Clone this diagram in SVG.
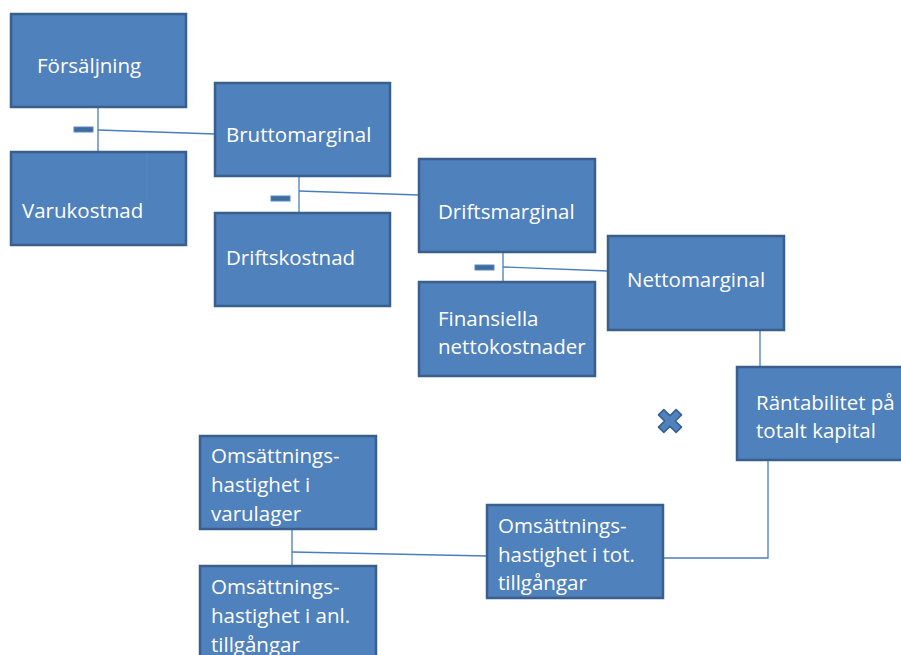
<svg xmlns="http://www.w3.org/2000/svg" width="901" height="655" viewBox="0 0 901 655">
  <style>
    .box { fill: #4F81BD; stroke: #3A5F8C; stroke-width: 2.5; }
    .lbl { font-family: "Open Sans", "Liberation Sans", sans-serif; font-size: 20.5px; fill: #FFFFFF; }
    .link { stroke: #4A7EBB; stroke-width: 1.3; fill: none; }
    .minus { fill: #3F6B9F; stroke: #5A88C0; stroke-width: 1; }
    .op { fill: #4F81BD; stroke: #385D8A; stroke-width: 1.5; stroke-linejoin: round; }
  </style>
  <rect width="901" height="655" fill="#FFFFFF"/>

  <!-- connectors -->
  <g id="connectors">
    <line class="link" x1="98" y1="107" x2="98" y2="152"/>
    <line class="link" x1="98" y1="130" x2="215" y2="134"/>
    <line class="link" x1="299" y1="176" x2="299" y2="215"/>
    <line class="link" x1="299" y1="191" x2="419" y2="195"/>
    <line class="link" x1="503" y1="252" x2="503" y2="284"/>
    <line class="link" x1="503" y1="267" x2="608" y2="271"/>
    <line class="link" x1="760" y1="330" x2="760" y2="367"/>
    <line class="link" x1="292" y1="529" x2="292" y2="568"/>
    <line class="link" x1="292" y1="552" x2="487" y2="556"/>
    <polyline class="link" points="663,558 768,558 768,460"/>
  </g>

  <!-- operators: minus signs and the multiply sign -->
  <g id="operators">
    <rect class="minus" x="74" y="127" width="19" height="5"/>
    <rect class="minus" x="271" y="196" width="19" height="5"/>
    <rect class="minus" x="475" y="265" width="19" height="5"/>
    <polygon class="op" transform="translate(670 421) rotate(45)"
      points="-3.8,-12.5 3.8,-12.5 3.8,-3.8 12.5,-3.8 12.5,3.8 3.8,3.8 3.8,12.5 -3.8,12.5 -3.8,3.8 -12.5,3.8 -12.5,-3.8 -3.8,-3.8"/>
  </g>

  <g id="forsaljning">
    <rect class="box" x="11" y="14" width="175" height="93"/>
    <text class="lbl" x="37" y="73">Försäljning</text>
  </g>
  <g id="varukostnad">
    <rect class="box" x="11" y="152" width="175" height="93"/>
    <line x1="147" y1="153" x2="147" y2="200" stroke="#5A89C2" stroke-width="1"/>
    <text class="lbl" x="22" y="218">Varukostnad</text>
  </g>
  <g id="bruttomarginal">
    <rect class="box" x="215" y="83" width="175" height="93"/>
    <text class="lbl" x="226" y="142">Bruttomarginal</text>
  </g>
  <g id="driftskostnad">
    <rect class="box" x="215" y="213" width="175" height="93"/>
    <text class="lbl" x="226" y="265">Driftskostnad</text>
  </g>
  <g id="driftsmarginal">
    <rect class="box" x="419" y="159" width="176" height="93"/>
    <text class="lbl" x="438" y="219">Driftsmarginal</text>
  </g>
  <g id="finansiella">
    <rect class="box" x="419" y="282" width="176" height="94"/>
    <text class="lbl" x="438" y="326">Finansiella</text>
    <text class="lbl" x="438" y="354">nettokostnader</text>
  </g>
  <g id="nettomarginal">
    <rect class="box" x="608" y="236" width="176" height="94"/>
    <text class="lbl" x="627" y="287">Nettomarginal</text>
  </g>
  <g id="rantabilitet">
    <rect class="box" x="737" y="367" width="175" height="93"/>
    <text class="lbl" x="756" y="410">Räntabilitet på</text>
    <text class="lbl" x="756" y="438">totalt kapital</text>
  </g>
  <g id="oms-varulager">
    <rect class="box" x="200" y="436" width="176" height="93"/>
    <text class="lbl" x="211" y="463">Omsättnings-</text>
    <text class="lbl" x="211" y="492">hastighet i</text>
    <text class="lbl" x="211" y="521">varulager</text>
  </g>
  <g id="oms-anl">
    <rect class="box" x="200" y="566" width="176" height="100"/>
    <text class="lbl" x="211" y="594">Omsättnings-</text>
    <text class="lbl" x="211" y="623">hastighet i anl.</text>
    <text class="lbl" x="211" y="652">tillgångar</text>
  </g>
  <g id="oms-tot">
    <rect class="box" x="487" y="505" width="176" height="93"/>
    <text class="lbl" x="498" y="533">Omsättnings-</text>
    <text class="lbl" x="498" y="562">hastighet i tot.</text>
    <text class="lbl" x="498" y="590">tillgångar</text>
  </g>
</svg>
